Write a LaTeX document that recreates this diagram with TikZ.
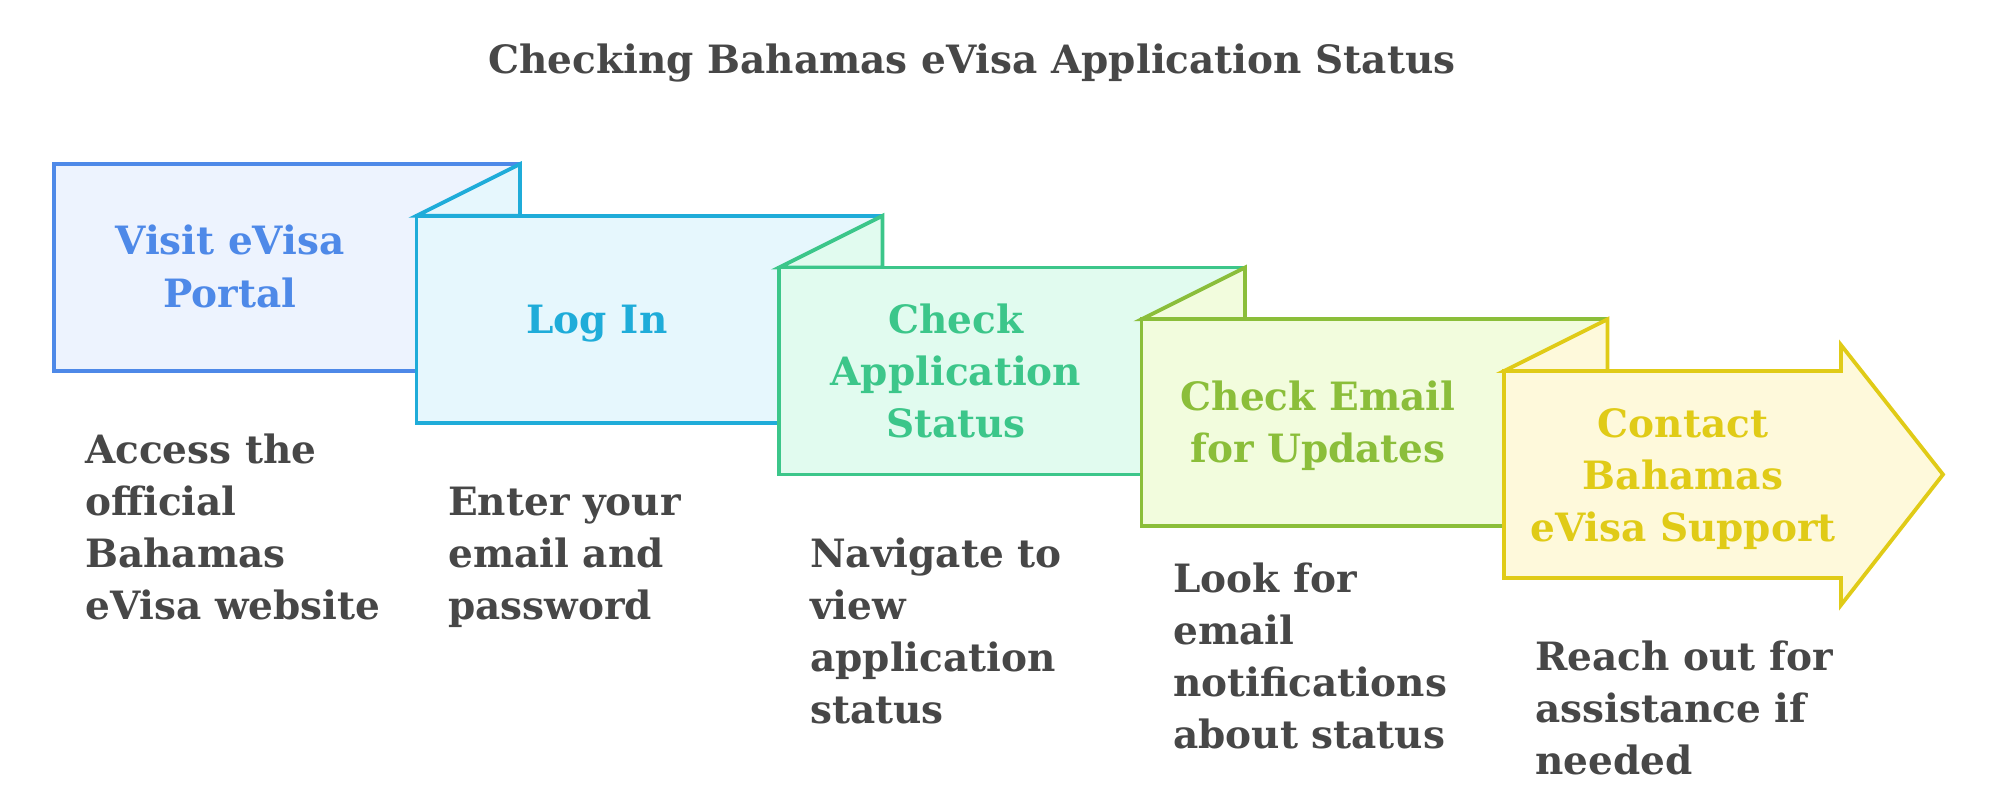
\documentclass[tikz,border=0pt]{standalone}
\usepackage{fontspec}
\setmainfont{DejaVu Serif}
\definecolor{sA}{HTML}{4E89E8}\definecolor{fA}{HTML}{EDF3FE}
\definecolor{sB}{HTML}{1FACD9}\definecolor{fB}{HTML}{E6F7FD}
\definecolor{sC}{HTML}{3CC68A}\definecolor{fC}{HTML}{E1FBEF}
\definecolor{sD}{HTML}{8BBE3A}\definecolor{fD}{HTML}{F2FCDD}
\definecolor{sE}{HTML}{E0CB17}\definecolor{fE}{HTML}{FEF9DB}
\definecolor{txt}{HTML}{474747}
\tikzset{
  panel/.style={line width=3.8pt, line join=miter},
  lbl/.style={anchor=base, inner sep=0pt, font=\fontsize{39}{52}\selectfont\bfseries},
  desc/.style={anchor=base west, inner sep=0pt, text=txt, font=\fontsize{39}{52}\selectfont\bfseries},
}
\newcommand{\mycl}[1]{\begin{tabular}[t]{@{}c@{}}#1\end{tabular}}
\newcommand{\myll}[1]{\begin{tabular}[t]{@{}l@{}}#1\end{tabular}}
\begin{document}
\begin{tikzpicture}[x=1pt,y=-1pt]
\useasboundingbox (0,0) rectangle (1999,810);
% title
\node[anchor=base, inner sep=0pt, text=txt, font=\fontsize{39}{52}\selectfont\bfseries] (title) at (972,74) {Checking Bahamas eVisa Application Status};
% box 1
\draw[panel, draw=sA, fill=fA] (54,164) rectangle (520,371);
% box 2
\draw[panel, draw=sB, fill=fB] (416.5,215.75) -- (520,164) -- (520,215.75) -- cycle;
\draw[panel, draw=sB, fill=fB] (416.5,215.75) rectangle (882.5,422.75);
% box 3
\draw[panel, draw=sC, fill=fC] (779,267.5) -- (882.5,215.75) -- (882.5,267.5) -- cycle;
\draw[panel, draw=sC, fill=fC] (779,267.5) rectangle (1245,474.5);
% box 4
\draw[panel, draw=sD, fill=fD] (1141.5,319.25) -- (1245,267.5) -- (1245,319.25) -- cycle;
\draw[panel, draw=sD, fill=fD] (1141.5,319.25) rectangle (1607.5,526.25);
% box 5 (arrow)
\draw[panel, draw=sE, fill=fE] (1504,371) -- (1607.5,319.25) -- (1607.5,371) -- cycle;
\draw[panel, draw=sE, fill=fE] (1504,371) -- (1841,371) -- (1841,345) -- (1943,474.5) -- (1841,605) -- (1841,578) -- (1504,578) -- cycle;
% labels
\node[lbl, text=sA] (l1) at (230,255) {\mycl{Visit eVisa\\Portal}};
\node[lbl, text=sB] (l2) at (597,333) {\mycl{Log In}};
\node[lbl, text=sC] (l3) at (956,333) {\mycl{Check\\Application\\Status}};
\node[lbl, text=sD] (l4) at (1318,410) {\mycl{Check Email\\for Updates}};
\node[lbl, text=sE] (l5) at (1683,437) {\mycl{Contact\\Bahamas\\eVisa Support}};
% descriptions
\node[desc] (d1) at (85,463) {\myll{Access the\\official\\Bahamas\\eVisa website}};
\node[desc] (d2) at (448,515) {\myll{Enter your\\email and\\password}};
\node[desc] (d3) at (810,567) {\myll{Navigate to\\view\\application\\status}};
\node[desc] (d4) at (1173,592) {\myll{Look for\\email\\notifications\\about status}};
\node[desc] (d5) at (1535,670) {\myll{Reach out for\\assistance if\\needed}};
\end{tikzpicture}
\end{document}
